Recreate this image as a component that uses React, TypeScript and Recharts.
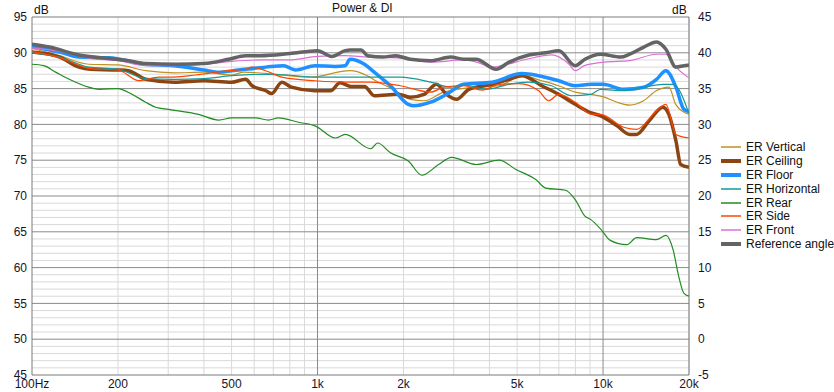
import React from "react";
import {
  LineChart,
  Line,
  XAxis,
  YAxis,
  ReferenceLine,
} from "recharts";

// frequency ticks (Hz) and their labels
const freqTicks = [100, 200, 500, 1000, 2000, 5000, 10000, 20000];
const freqLabels = ["100Hz", "200", "500", "1k", "2k", "5k", "10k", "20k"];
const leftTicks = [45, 50, 55, 60, 65, 70, 75, 80, 85, 90, 95];
const rightTicks = [-5, 0, 5, 10, 15, 20, 25, 30, 35, 40, 45];

// ER Vertical
const vertFreq = [100, 125, 158, 200, 250, 314, 400, 500, 551, 718, 943, 1300, 1476, 1597, 1837, 2114, 2360, 2765, 3072, 3589, 4325, 5199, 6100, 6990, 7986, 9065, 10110, 11210, 12400, 13860, 15360, 17030, 17960, 20000];
const vertVals = [90.6, 89.6, 88.4, 88.3, 87.5, 87.2, 87.3, 86.9, 87.3, 87.0, 86.6, 87.5, 86.9, 86.1, 84.9, 83.5, 83.3, 84.5, 84.9, 85.2, 85.4, 86.8, 86.1, 85.4, 84.5, 84.2, 83.8, 83.1, 82.7, 83.3, 84.7, 85.2, 82.8, 81.4];

// ER Ceiling
const ceilFreq = [100, 125, 146, 160, 200, 218, 250, 315, 400, 500, 560, 590, 660, 690, 750, 810, 980, 1110, 1200, 1310, 1460, 1580, 1920, 2110, 2360, 2610, 2830, 3070, 3390, 4080, 4690, 5200, 6100, 6990, 7990, 9100, 9800, 11200, 12400, 13100, 14500, 16200, 17000, 18000, 18700, 20000];
const ceilVals = [90.1, 89.4, 88.0, 87.7, 87.6, 87.5, 86.3, 85.9, 86.1, 85.9, 86.3, 85.4, 84.7, 84.3, 85.9, 85.2, 84.7, 84.7, 85.8, 85.3, 85.3, 84.0, 84.2, 83.8, 84.2, 85.6, 84.2, 83.5, 84.9, 85.6, 86.3, 86.8, 85.4, 84.2, 82.8, 81.6, 81.2, 79.8, 78.6, 78.6, 80.5, 82.4, 81.4, 77.7, 74.4, 74.0];

// ER Floor
const floorFreq = [100, 125, 146, 186, 250, 315, 400, 450, 530, 660, 760, 836, 980, 1150, 1250, 1300, 1460, 1580, 1800, 2080, 2170, 2490, 2830, 3250, 4080, 5200, 5950, 6990, 7990, 9100, 10000, 11800, 13900, 15400, 16600, 18000, 19200, 20000];
const floorVals = [90.9, 90.1, 89.4, 89.3, 88.4, 88.2, 87.6, 87.3, 87.6, 88.0, 88.2, 87.6, 88.2, 88.1, 88.2, 89.1, 88.4, 87.3, 85.4, 82.8, 82.6, 83.1, 84.2, 85.6, 85.9, 87.1, 86.8, 86.1, 85.4, 85.6, 85.6, 84.9, 85.2, 86.3, 87.5, 85.2, 82.1, 81.8];

// ER Horizontal
const horFreq = [100, 125, 158, 200, 250, 314, 400, 500, 660, 790, 980, 1500, 1950, 2490, 2930, 3250, 3890, 4690, 5500, 6600, 7740, 9070, 9800, 11800, 13900, 16200, 17600, 20000];
const horVals = [90.0, 89.4, 88.0, 87.7, 86.4, 86.3, 86.4, 86.8, 87.0, 86.9, 86.6, 86.6, 86.6, 85.9, 85.2, 85.5, 84.9, 85.6, 85.9, 85.4, 84.0, 84.2, 84.9, 84.7, 85.2, 85.6, 85.6, 81.5];

// ER Rear
const rearFreq = [100, 110, 121, 135, 158, 172, 200, 224, 250, 271, 301, 383, 451, 500, 607, 673, 730, 858, 981, 1154, 1251, 1536, 1623, 1806, 2080, 2320, 2655, 2950, 3589, 4325, 4955, 5814, 6300, 7391, 7986, 8640, 9065, 9797, 10600, 12120, 13110, 15360, 16630, 17590, 18400, 19200, 20000];
const rearVals = [88.4, 88.2, 87.3, 86.3, 85.2, 84.9, 85.0, 84.2, 83.1, 82.4, 82.1, 81.4, 80.6, 80.9, 80.9, 80.6, 80.9, 80.3, 79.8, 78.1, 78.6, 76.6, 77.4, 76.0, 74.9, 72.9, 74.4, 75.4, 74.4, 75.0, 73.7, 72.3, 71.1, 70.8, 69.5, 67.2, 66.7, 65.4, 63.8, 63.2, 64.2, 63.9, 64.5, 62.5, 58.8, 56.4, 56.0];

// ER Side
const sideFreq = [100, 125, 160, 200, 237, 278, 301, 374, 488, 560, 588, 658, 749, 981, 1280, 1530, 1950, 2490, 2770, 3250, 3770, 4330, 5080, 5950, 6450, 6990, 7990, 9100, 9800, 11800, 13100, 15400, 16600, 18000, 20000];
const sideVals = [90.2, 89.3, 87.8, 87.6, 86.1, 86.6, 86.6, 86.9, 87.5, 87.7, 88.0, 87.5, 86.6, 86.1, 85.9, 85.9, 85.4, 84.5, 85.2, 85.4, 84.8, 85.6, 85.7, 84.7, 83.3, 84.2, 83.1, 81.4, 81.4, 79.6, 79.3, 81.9, 82.8, 78.6, 78.1];

// ER Front
const frontFreq = [100, 125, 160, 200, 250, 315, 400, 500, 630, 800, 1000, 1250, 1500, 1900, 2500, 3250, 3600, 4100, 4500, 5400, 6600, 7600, 8000, 8600, 10100, 12400, 15400, 16600, 18000, 20000];
const frontVals = [90.7, 90.2, 89.2, 88.9, 88.2, 88.2, 88.4, 88.8, 89.0, 89.0, 89.5, 89.6, 89.4, 89.3, 88.7, 89.0, 88.7, 88.0, 88.3, 89.1, 89.7, 88.4, 87.5, 88.2, 88.7, 88.9, 89.8, 89.8, 88.0, 86.5];

// Reference angle
const refFreq = [100, 115, 146, 165, 186, 218, 250, 320, 400, 488, 560, 630, 800, 1000, 1120, 1250, 1300, 1420, 1500, 1690, 1880, 2110, 2490, 2930, 3250, 3590, 4220, 4690, 5500, 6300, 7000, 7990, 8640, 9800, 11500, 12400, 13900, 15400, 16600, 18000, 19200, 20000];
const refVals = [91.2, 90.8, 89.7, 89.4, 89.2, 88.9, 88.5, 88.4, 88.5, 89.1, 89.6, 89.6, 89.9, 90.3, 89.5, 90.3, 90.4, 90.4, 89.6, 89.4, 89.6, 89.1, 88.9, 89.4, 89.1, 89.1, 87.7, 88.7, 89.7, 90.0, 90.3, 88.2, 89.1, 89.8, 89.4, 89.8, 90.8, 91.5, 90.5, 88.0, 88.2, 88.3];

const toPoints = (freqs: number[], vals: number[]) =>
  freqs.map((f, i) => ({ f, v: vals[i] }));

const series = [
  { name: "ER Vertical", color: "#c09020", width: 1.2, data: toPoints(vertFreq, vertVals) },
  { name: "ER Ceiling", color: "#8b4513", width: 3.5, data: toPoints(ceilFreq, ceilVals) },
  { name: "ER Floor", color: "#1e90ff", width: 3.5, data: toPoints(floorFreq, floorVals) },
  { name: "ER Horizontal", color: "#139a9a", width: 1.2, data: toPoints(horFreq, horVals) },
  { name: "ER Rear", color: "#228b22", width: 1.2, data: toPoints(rearFreq, rearVals) },
  { name: "ER Side", color: "#ff4500", width: 1.2, data: toPoints(sideFreq, sideVals) },
  { name: "ER Front", color: "#da70d6", width: 1.2, data: toPoints(frontFreq, frontVals) },
  { name: "Reference angle", color: "#646464", width: 3.5, data: toPoints(refFreq, refVals) },
];

// grid lines
const minorY: number[] = [];
for (let v = 46; v < 95; v++) if (v % 5 !== 0) minorY.push(v);
const majorY = [50, 55, 60, 65, 70, 75, 80, 85, 90];
const minorX: number[] = [];
for (const d of [100, 1000]) for (let k = 2; k <= 9; k++) minorX.push(d * k);
minorX.push(20000);
const majorX = [1000, 10000];

const font = "'Liberation Sans', Arial, sans-serif";
const tickStyle = { fontSize: 12, fill: "#14142a", fontFamily: font };

export default function App() {
  return (
    <div style={{ position: "absolute", left: 0, top: 0, width: 834, height: 392, background: "#fff", fontFamily: font }}>
      <LineChart width={834} height={392} margin={{ top: 17, right: 0, bottom: 0, left: 0 }}>
        <XAxis
          dataKey="f"
          type="number"
          scale="log"
          domain={[100, 20000]}
          allowDataOverflow
          ticks={freqTicks}
          interval={0}
          tickFormatter={(v) => freqLabels[freqTicks.indexOf(v)] ?? ""}
          axisLine={false}
          tickLine={false}
          tickSize={0}
          tickMargin={4}
          height={17}
          tick={tickStyle}
        />
        <YAxis
          yAxisId="left"
          domain={[45, 95]}
          ticks={leftTicks}
          interval={0}
          allowDataOverflow
          axisLine={false}
          tickLine={false}
          tickSize={0}
          tickMargin={5}
          width={32}
          tick={tickStyle}
        />
        <YAxis
          yAxisId="right"
          orientation="right"
          domain={[-5, 45]}
          ticks={rightTicks}
          interval={0}
          allowDataOverflow
          axisLine={false}
          tickLine={false}
          tickSize={0}
          tickMargin={9}
          width={145}
          tick={{ ...tickStyle, textAnchor: "start" }}
        />
        {minorY.map((v) => (
          <ReferenceLine key={"my" + v} yAxisId="left" y={v} stroke="#d9d9d9" strokeWidth={1} />
        ))}
        {minorX.map((v) => (
          <ReferenceLine key={"mx" + v} yAxisId="left" x={v} stroke="#d9d9d9" strokeWidth={1} />
        ))}
        {majorY.map((v) => (
          <ReferenceLine key={"My" + v} yAxisId="left" y={v} stroke="#8a8a8a" strokeWidth={1} />
        ))}
        {majorX.map((v) => (
          <ReferenceLine key={"Mx" + v} yAxisId="left" x={v} stroke="#8a8a8a" strokeWidth={1} />
        ))}
        <ReferenceLine yAxisId="left" y={45} stroke="#7a7a7a" />
        <ReferenceLine yAxisId="left" y={95} stroke="#7a7a7a" />
        <ReferenceLine yAxisId="left" x={100} stroke="#7a7a7a" />
        <ReferenceLine yAxisId="left" x={20000} stroke="#7a7a7a" />
        {series.map((s) => (
          <Line
            key={s.name}
            yAxisId="left"
            data={s.data}
            dataKey="v"
            name={s.name}
            type="monotone"
            stroke={s.color}
            strokeWidth={s.width}
            dot={false}
            activeDot={false}
            isAnimationActive={false}
          />
        ))}
      </LineChart>
      <div style={{ position: "absolute", left: 332, top: 1, fontSize: 12, color: "#111" }}>Power &amp; DI</div>
      <div style={{ position: "absolute", left: 34, top: 3, fontSize: 12, color: "#111" }}>dB</div>
      <div style={{ position: "absolute", left: 672, top: 3, fontSize: 12, color: "#111" }}>dB</div>
      <div style={{ position: "absolute", left: 720, top: 140 }}>
        {series.map((s) => (
          <div key={s.name} style={{ display: "flex", alignItems: "center", height: 13.9 }}>
            <svg width={22} height={8} style={{ marginRight: 4 }}>
              <line x1={1} x2={21} y1={4} y2={4} stroke={s.color} strokeWidth={s.width > 2 ? 4 : 1.5} />
            </svg>
            <span style={{ fontSize: 12, color: "#111", whiteSpace: "nowrap" }}>{s.name}</span>
          </div>
        ))}
      </div>
    </div>
  );
}
